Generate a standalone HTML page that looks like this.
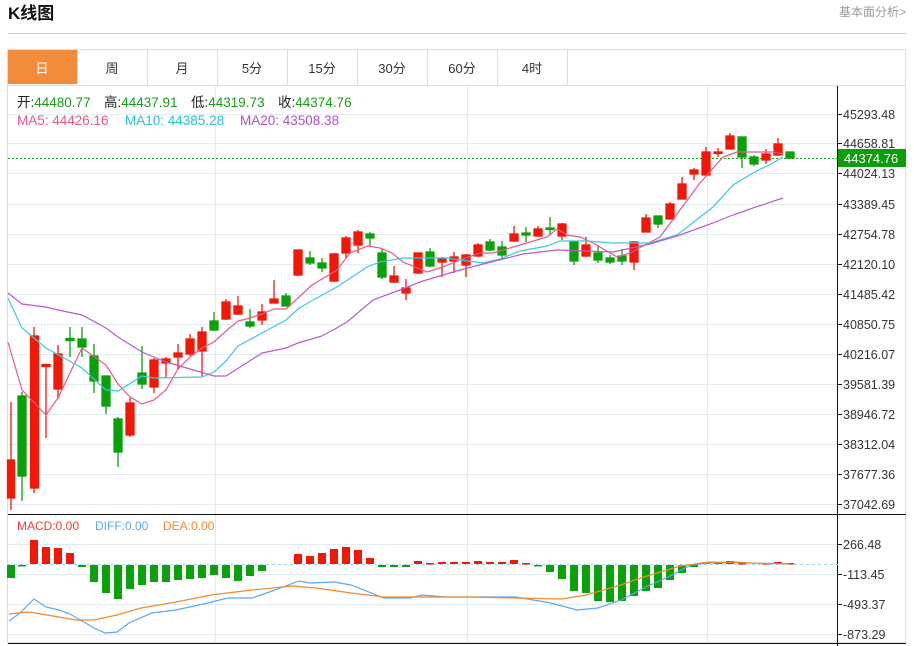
<!DOCTYPE html>
<html><head><meta charset="utf-8"><style>
html,body{margin:0;padding:0;background:#fff;width:914px;height:646px;overflow:hidden;font-family:"Liberation Sans","Noto Sans CJK SC",sans-serif;}
</style></head><body>
<svg width="914" height="646" xmlns="http://www.w3.org/2000/svg" style="position:absolute;left:0;top:0" font-family="Liberation Sans, Noto Sans CJK SC, sans-serif">
<text x="8" y="19" font-size="17" font-weight="bold" fill="#111">K线图</text>
<text x="839" y="16" font-size="12" fill="#999">基本面分析&gt;</text>
<line x1="8" y1="33.5" x2="906" y2="33.5" stroke="#ccc"/>
<!-- tabs -->
<rect x="7.5" y="49.5" width="898" height="593" fill="none" stroke="#ddd"/>
<rect x="8" y="50" width="69" height="34" fill="#f28c3c"/>
<line x1="8" y1="85.5" x2="906" y2="85.5" stroke="#ddd"/>
<g stroke="#ddd"><line x1="77.5" y1="50" x2="77.5" y2="85"/><line x1="147.5" y1="50" x2="147.5" y2="85"/><line x1="217.5" y1="50" x2="217.5" y2="85"/><line x1="287.5" y1="50" x2="287.5" y2="85"/><line x1="357.5" y1="50" x2="357.5" y2="85"/><line x1="427.5" y1="50" x2="427.5" y2="85"/><line x1="497.5" y1="50" x2="497.5" y2="85"/><line x1="567.5" y1="50" x2="567.5" y2="85"/></g>
<g font-size="13" text-anchor="middle" fill="#333">
<text x="42" y="73" fill="#fff">日</text><text x="112" y="73">周</text><text x="182" y="73">月</text><text x="252" y="73">5分</text><text x="322" y="73">15分</text><text x="392" y="73">30分</text><text x="462" y="73">60分</text><text x="532" y="73">4时</text>
</g>
<!-- grid -->
<g stroke="#e2ebf2">
<line x1="8" y1="114.5" x2="838" y2="114.5"/><line x1="8" y1="143.5" x2="838" y2="143.5"/><line x1="8" y1="173.5" x2="838" y2="173.5"/><line x1="8" y1="204.5" x2="838" y2="204.5"/><line x1="8" y1="234.5" x2="838" y2="234.5"/><line x1="8" y1="264.5" x2="838" y2="264.5"/><line x1="8" y1="294.5" x2="838" y2="294.5"/><line x1="8" y1="324.5" x2="838" y2="324.5"/><line x1="8" y1="354.5" x2="838" y2="354.5"/><line x1="8" y1="384.5" x2="838" y2="384.5"/><line x1="8" y1="414.5" x2="838" y2="414.5"/><line x1="8" y1="444.5" x2="838" y2="444.5"/><line x1="8" y1="474.5" x2="838" y2="474.5"/><line x1="8" y1="504.5" x2="838" y2="504.5"/>
<line x1="8" y1="544.5" x2="838" y2="544.5"/><line x1="8" y1="574.5" x2="838" y2="574.5"/><line x1="8" y1="604.5" x2="838" y2="604.5"/><line x1="8" y1="634.5" x2="838" y2="634.5"/>
<line x1="215.5" y1="86" x2="215.5" y2="643"/><line x1="467.5" y1="86" x2="467.5" y2="643"/><line x1="707.5" y1="86" x2="707.5" y2="643"/>
</g>
<line x1="8" y1="514.5" x2="906" y2="514.5" stroke="#111"/>
<line x1="8" y1="643.5" x2="906" y2="643.5" stroke="#111"/>
<line x1="837.5" y1="86" x2="837.5" y2="646" stroke="#111"/>
<!-- axis labels -->
<g font-size="12.5" fill="#333">
<g stroke="#111"><line x1="838" y1="114.5" x2="842" y2="114.5"/><line x1="838" y1="143.5" x2="842" y2="143.5"/><line x1="838" y1="173.5" x2="842" y2="173.5"/><line x1="838" y1="204.5" x2="842" y2="204.5"/><line x1="838" y1="234.5" x2="842" y2="234.5"/><line x1="838" y1="264.5" x2="842" y2="264.5"/><line x1="838" y1="294.5" x2="842" y2="294.5"/><line x1="838" y1="324.5" x2="842" y2="324.5"/><line x1="838" y1="354.5" x2="842" y2="354.5"/><line x1="838" y1="384.5" x2="842" y2="384.5"/><line x1="838" y1="414.5" x2="842" y2="414.5"/><line x1="838" y1="444.5" x2="842" y2="444.5"/><line x1="838" y1="474.5" x2="842" y2="474.5"/><line x1="838" y1="504.5" x2="842" y2="504.5"/><line x1="838" y1="544.5" x2="842" y2="544.5"/><line x1="838" y1="574.5" x2="842" y2="574.5"/><line x1="838" y1="604.5" x2="842" y2="604.5"/><line x1="838" y1="634.5" x2="842" y2="634.5"/></g>
<text x="843" y="119">45293.48</text><text x="843" y="148">44658.81</text><text x="843" y="178">44024.13</text><text x="843" y="209">43389.45</text><text x="843" y="239">42754.78</text><text x="843" y="269">42120.10</text><text x="843" y="299">41485.42</text><text x="843" y="329">40850.75</text><text x="843" y="359">40216.07</text><text x="843" y="389">39581.39</text><text x="843" y="419">38946.72</text><text x="843" y="449">38312.04</text><text x="843" y="479">37677.36</text><text x="843" y="509">37042.69</text>
<text x="843" y="549">266.48</text><text x="843" y="579">-113.45</text><text x="843" y="609">-493.37</text><text x="843" y="639">-873.29</text>
</g>
<line x1="8" y1="158.5" x2="838" y2="158.5" stroke="#1aa01a" stroke-dasharray="2,2"/>
<rect x="838" y="149" width="68" height="18" fill="#0a9e0a"/>
<text x="844" y="163" font-size="13" fill="#fff">44374.76</text>
<!-- info -->
<g font-size="13.5">
<text x="17" y="107" fill="#222">开:<tspan fill="#1a9c1a">44480.77</tspan></text>
<text x="104" y="107" fill="#222">高:<tspan fill="#1a9c1a">44437.91</tspan></text>
<text x="191" y="107" fill="#222">低:<tspan fill="#1a9c1a">44319.73</tspan></text>
<text x="278" y="107" fill="#222">收:<tspan fill="#1a9c1a">44374.76</tspan></text>
</g>
<g font-size="13.5">
<text x="17" y="125" fill="#e8578a">MA5: 44426.16</text>
<text x="125" y="125" fill="#2ac0d8">MA10: 44385.28</text>
<text x="240" y="125" fill="#b050c8">MA20: 43508.38</text>
<text x="17" y="530" font-size="12" fill="#f03c3c">MACD:0.00</text>
<text x="95" y="530" font-size="12" fill="#5aa9f0">DIFF:0.00</text>
<text x="163" y="530" font-size="12" fill="#f08a2c">DEA:0.00</text>
</g>
<!-- candles -->
<g id="c" stroke-width="1.3">
<g stroke="#f21808" fill="#f21808">
<line x1="11" y1="402" x2="11" y2="510"/><rect x="7.5" y="460" width="7" height="38"/>
<line x1="34" y1="327" x2="34" y2="493"/><rect x="30.5" y="336" width="8" height="152"/>
<line x1="46" y1="365" x2="46" y2="438"/><rect x="42" y="364.5" width="8" height="2"/>
<line x1="58" y1="345" x2="58" y2="399"/><rect x="54" y="354" width="8" height="35"/>
<line x1="130" y1="398" x2="130" y2="437"/><rect x="126" y="403" width="8" height="32"/>
<line x1="154" y1="358" x2="154" y2="393"/><rect x="150" y="360" width="8" height="27"/>
<line x1="166" y1="357" x2="166" y2="378"/><rect x="162" y="359" width="8" height="4"/>
<line x1="178" y1="344" x2="178" y2="370"/><rect x="174" y="353" width="8" height="4"/>
<line x1="190" y1="334" x2="190" y2="356"/><rect x="186" y="339" width="8" height="15"/>
<line x1="202" y1="327" x2="202" y2="376"/><rect x="198" y="332" width="8" height="19"/>
<line x1="226" y1="299" x2="226" y2="320"/><rect x="222" y="302" width="8" height="17"/>
<line x1="238" y1="296" x2="238" y2="315"/><rect x="234" y="306" width="8" height="8"/>
<line x1="262" y1="304" x2="262" y2="325"/><rect x="258" y="312" width="8" height="8"/>
<line x1="274" y1="280" x2="274" y2="303"/><rect x="270" y="299" width="8" height="4"/>
<line x1="298" y1="250" x2="298" y2="276"/><rect x="294" y="250" width="8" height="25"/>
<line x1="334" y1="253" x2="334" y2="282"/><rect x="330" y="254" width="8" height="27"/>
<line x1="346" y1="236" x2="346" y2="258"/><rect x="342" y="238" width="8" height="15"/>
<line x1="358" y1="230" x2="358" y2="253"/><rect x="354" y="232" width="8" height="13"/>
<line x1="394" y1="266" x2="394" y2="283"/><rect x="390" y="276" width="8" height="6"/>
<line x1="406" y1="279" x2="406" y2="300"/><rect x="402" y="288" width="8" height="5"/>
<line x1="418" y1="253" x2="418" y2="274"/><rect x="414" y="253" width="8" height="20"/>
<line x1="442" y1="257" x2="442" y2="277"/><rect x="438" y="259" width="8" height="3"/>
<line x1="454" y1="252" x2="454" y2="273"/><rect x="450" y="257" width="8" height="4"/>
<line x1="466" y1="254" x2="466" y2="277"/><rect x="462" y="255" width="8" height="10"/>
<line x1="478" y1="243" x2="478" y2="257"/><rect x="474" y="245" width="8" height="11"/>
<line x1="514" y1="226" x2="514" y2="242"/><rect x="510" y="234" width="8" height="7"/>
<line x1="538" y1="226" x2="538" y2="237"/><rect x="534" y="229" width="8" height="7"/>
<line x1="562" y1="223" x2="562" y2="240"/><rect x="558" y="224" width="8" height="12"/>
<line x1="586" y1="237" x2="586" y2="257"/><rect x="582" y="245" width="8" height="11"/>
<line x1="634" y1="241" x2="634" y2="270"/><rect x="630" y="242" width="8" height="20"/>
<line x1="646" y1="214" x2="646" y2="232"/><rect x="642" y="218" width="8" height="14"/>
<line x1="670" y1="202" x2="670" y2="219"/><rect x="666" y="204" width="8" height="15"/>
<line x1="682" y1="177" x2="682" y2="199"/><rect x="678" y="184" width="8" height="15"/>
<line x1="694" y1="168" x2="694" y2="180"/><rect x="690" y="170" width="8" height="4"/>
<line x1="706" y1="147" x2="706" y2="175"/><rect x="702" y="152" width="8" height="23"/>
<line x1="718" y1="148" x2="718" y2="157"/><rect x="714" y="152" width="8" height="1.5"/>
<line x1="730" y1="133" x2="730" y2="149"/><rect x="726" y="136" width="8" height="13"/>
<line x1="766" y1="149" x2="766" y2="164"/><rect x="762" y="154" width="8" height="6"/>
<line x1="778" y1="138" x2="778" y2="156"/><rect x="774" y="144" width="8" height="11"/>
</g>
<g stroke="#0aa00a" fill="#0aa00a">
<line x1="22" y1="392" x2="22" y2="501"/><rect x="18" y="396" width="8" height="80"/>
<line x1="70" y1="327" x2="70" y2="357"/><rect x="66" y="338.5" width="8" height="2"/>
<line x1="82" y1="327" x2="82" y2="357"/><rect x="78" y="339" width="8" height="8"/>
<line x1="94" y1="344" x2="94" y2="393"/><rect x="90" y="356" width="8" height="25"/>
<line x1="106" y1="376" x2="106" y2="414"/><rect x="102" y="376" width="8" height="30"/>
<line x1="118" y1="417" x2="118" y2="467"/><rect x="114" y="419" width="8" height="33"/>
<line x1="142" y1="346" x2="142" y2="389"/><rect x="138" y="373" width="8" height="11"/>
<line x1="214" y1="312" x2="214" y2="331"/><rect x="210" y="321" width="8" height="9"/>
<line x1="250" y1="309" x2="250" y2="328"/><rect x="246" y="322" width="8" height="4"/>
<line x1="286" y1="293" x2="286" y2="306"/><rect x="282" y="296" width="8" height="10"/>
<line x1="310" y1="251" x2="310" y2="265"/><rect x="306" y="258" width="8" height="5"/>
<line x1="322" y1="258" x2="322" y2="272"/><rect x="318" y="263" width="8" height="5"/>
<line x1="370" y1="232" x2="370" y2="246"/><rect x="366" y="234" width="8" height="4"/>
<line x1="382" y1="249" x2="382" y2="279"/><rect x="378" y="253" width="8" height="24"/>
<line x1="430" y1="248" x2="430" y2="267"/><rect x="426" y="252" width="8" height="14"/>
<line x1="490" y1="239" x2="490" y2="251"/><rect x="486" y="242" width="8" height="8"/>
<line x1="502" y1="241" x2="502" y2="260"/><rect x="498" y="247" width="8" height="8"/>
<line x1="526" y1="227" x2="526" y2="242"/><rect x="522" y="233" width="8" height="2"/>
<line x1="550" y1="217" x2="550" y2="235"/><rect x="546" y="228" width="8" height="1.5"/>
<line x1="574" y1="241" x2="574" y2="265"/><rect x="570" y="242" width="8" height="19"/>
<line x1="598" y1="245" x2="598" y2="263"/><rect x="594" y="253" width="8" height="7"/>
<line x1="610" y1="255" x2="610" y2="264"/><rect x="606" y="258" width="8" height="4"/>
<line x1="622" y1="249" x2="622" y2="265"/><rect x="618" y="256" width="8" height="5"/>
<line x1="658" y1="216" x2="658" y2="228"/><rect x="654" y="216" width="8" height="8"/>
<line x1="742" y1="137" x2="742" y2="168"/><rect x="738" y="137" width="8" height="20"/>
<line x1="754" y1="155" x2="754" y2="166"/><rect x="750" y="157" width="8" height="7"/>
<line x1="790" y1="152" x2="790" y2="159"/><rect x="786" y="152" width="8" height="6"/>
</g>
</g>
<!-- MAs -->
<g fill="none" stroke-width="1.2">
<polyline stroke="#e8578a" points="8,342 22,390 46,415 58,398 82,348 106,365 118,384 130,397 142,404 154,400 166,390 178,369 190,357 202,348 214,342 226,331 238,321 250,318 262,314 274,309 286,309 298,298 312,285 337,270 350,253 368,246 380,248 392,253 403,262 427,272 440,268 460,260 480,253 493,253 520,245 547,237 557,229 567,235 580,237 593,243 617,257 630,253 643,246 660,237 680,210 700,183 723,157 737,152 757,152 773,152 783,154"/>
<polyline stroke="#3cc8e0" points="8,298 22,328 46,348 82,368 106,390 118,391 142,376 154,378 202,377 214,372 226,361 238,346 262,333 286,320 298,309 313,300 337,287 367,267 380,262 403,258 447,258 460,260 483,263 500,259 520,251 547,246 560,241 587,241 613,243 650,243 677,235 713,207 733,185 753,173 773,163 783,157"/>
<polyline stroke="#b85cc7" points="8,293 22,304 46,307 58,310 82,315 106,328 118,337 142,352 166,362 214,376 226,376 262,353 286,348 298,343 322,336 335,329 347,322 373,300 400,290 423,281 460,270 523,254 557,250 613,252 650,244 680,235 713,223 733,215 753,208 783,198"/>
</g>
<!-- MACD -->
<line x1="8" y1="564.5" x2="838" y2="564.5" stroke="#a8d8ea" stroke-dasharray="3,3"/>
<g fill="#0aa00a">
<rect x="7" y="565" width="8" height="13"/><rect x="18" y="565" width="8" height="1.5"/>
<rect x="78" y="565" width="8" height="2"/><rect x="90" y="565" width="8" height="17"/><rect x="102" y="565" width="8" height="28"/><rect x="114" y="565" width="8" height="34"/><rect x="126" y="565" width="8" height="24"/><rect x="138" y="565" width="8" height="20"/><rect x="150" y="565" width="8" height="17"/><rect x="162" y="565" width="8" height="17"/><rect x="174" y="565" width="8" height="15"/><rect x="186" y="565" width="8" height="14"/><rect x="198" y="565" width="8" height="13"/><rect x="210" y="565" width="8" height="10"/><rect x="222" y="565" width="8" height="13"/><rect x="234" y="565" width="8" height="16"/><rect x="246" y="565" width="8" height="11"/><rect x="258" y="565" width="8" height="6"/>
<rect x="378" y="565" width="8" height="2"/><rect x="390" y="565" width="8" height="2"/><rect x="402" y="565" width="8" height="2"/>
<rect x="534" y="565" width="8" height="1.5"/><rect x="546" y="565" width="8" height="7"/><rect x="558" y="565" width="8" height="14"/><rect x="570" y="565" width="8" height="26"/><rect x="582" y="565" width="8" height="28"/><rect x="594" y="565" width="8" height="36"/><rect x="606" y="565" width="8" height="37"/><rect x="618" y="565" width="8" height="36"/><rect x="630" y="565" width="8" height="31"/><rect x="642" y="565" width="8" height="26"/><rect x="654" y="565" width="8" height="23"/><rect x="666" y="565" width="8" height="15"/><rect x="678" y="565" width="8" height="8"/><rect x="690" y="565" width="8" height="2"/>
</g>
<g fill="#f21808">
<rect x="30" y="540" width="8" height="24"/><rect x="42" y="547" width="8" height="17"/><rect x="54" y="548" width="8" height="16"/><rect x="66" y="553" width="8" height="11"/>
<rect x="294" y="554" width="8" height="10"/><rect x="306" y="556" width="8" height="8"/><rect x="318" y="553" width="8" height="11"/><rect x="330" y="549" width="8" height="15"/><rect x="342" y="547" width="8" height="17"/><rect x="354" y="550" width="8" height="14"/><rect x="366" y="558" width="8" height="6"/>
<rect x="414" y="561" width="8" height="3"/><rect x="426" y="563" width="8" height="1.5"/><rect x="438" y="562" width="8" height="2"/><rect x="450" y="562" width="8" height="2"/><rect x="462" y="562" width="8" height="2"/><rect x="474" y="561" width="8" height="3"/><rect x="486" y="562" width="8" height="2"/><rect x="498" y="562" width="8" height="2"/><rect x="510" y="560" width="8" height="4"/><rect x="522" y="563" width="8" height="1.5"/>
<rect x="702" y="562" width="8" height="2"/><rect x="714" y="562" width="8" height="2"/><rect x="726" y="561" width="8" height="3"/><rect x="738" y="563" width="8" height="1.5"/><rect x="762" y="563" width="8" height="1.5"/><rect x="774" y="562" width="8" height="2"/><rect x="786" y="563" width="8" height="1.5"/>
</g>
<g fill="none" stroke-width="1.2">
<polyline stroke="#5aa9f0" points="9,621 20,613 34,599 46,607 59,610 70,614 94,628 105,633 117,632 129,623 152,613 176,610 199,605 228,598 252,598 275,590 299,581 310,583 334,582 351,585 384,598 410,598 422,595 445,597 480,597 516,597 551,603 577,610 598,608 621,600 644,588 668,577 691,565 709,563 735,562 750,563 790,564"/>
<polyline stroke="#f08a2c" points="9,614 29,612 47,615 76,620 94,620 117,615 141,608 176,602 211,595 252,590 293,586 316,588 351,593 384,597 469,597 562,599 586,595 621,585 644,577 680,566 709,562 750,563 790,564"/>
</g>
</svg>
</body></html>
